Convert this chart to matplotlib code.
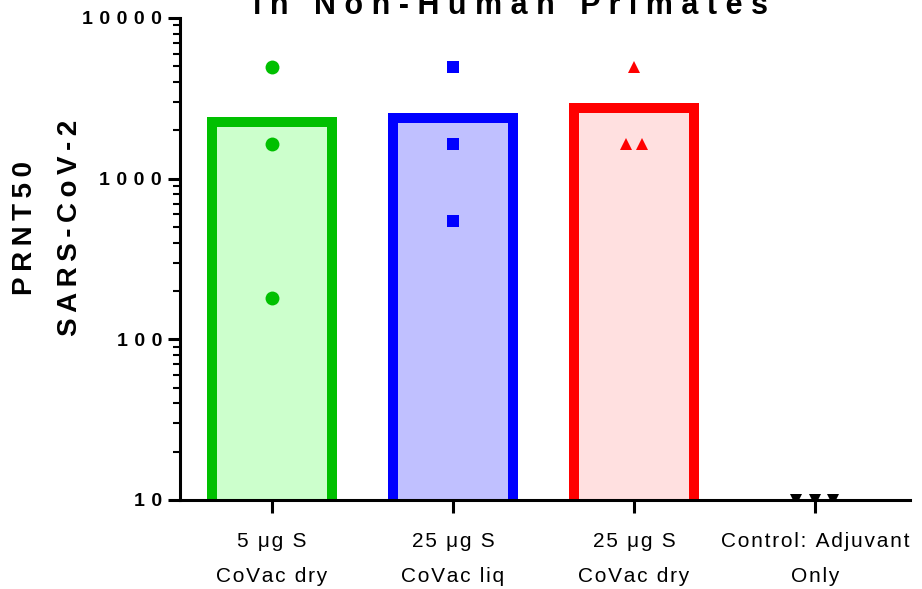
import matplotlib
matplotlib.use("Agg")
import matplotlib.pyplot as plt
from matplotlib.ticker import FixedLocator, NullFormatter
import numpy as np

# data
groups = ["5 μg S\nCoVac dry", "25 μg S\nCoVac liq", "25 μg S\nCoVac dry", "Control: Adjuvant\nOnly"]
green_pts = [4940, 1640, 181]
blue_pts = [4940, 1640, 545]
red_pts = [4940, 1640, 1640]
ctrl_pts = [10, 10, 10]
green_dx = [0, 0, 0]
blue_dx = [0, 0, 0]
red_dx = [0, -0.045, 0.045]
ctrl_dx = [-0.105, 0, 0.1]

edge_cols = ["#00C000", "#0000FF", "#FF0000", "#000000"]
fill_cols = ["#CCFFCC", "#C0C0FF", "#FFE0E0", "#FFFFFF"]
markers = ["o", "s", "^", "v"]
msizes = [10, 9, 9, 9]

BOLD = ["Liberation Sans", "DejaVu Sans"]


def spaced(s, sep="\u2009"):
    return "\n".join(sep.join(line) for line in s.split("\n"))


fig = plt.figure(figsize=(9.22, 5.89), dpi=100)
ax = fig.add_axes([180 / 922, 89 / 589, 730 / 922, 482 / 589])
ax.set_yscale("log")

x = np.arange(len(groups))
all_pts = [green_pts, blue_pts, red_pts, ctrl_pts]
all_dx = [green_dx, blue_dx, red_dx, ctrl_dx]
means = [np.mean(p) for p in all_pts]

# bars start below the axis so the bottom edge is clipped away
for i in range(3):
    ax.bar(x[i], means[i] - 1, bottom=1, width=0.66, color=fill_cols[i],
           edgecolor=edge_cols[i], linewidth=7.2, zorder=1)

for i in range(4):
    ax.plot(x[i] + np.array(all_dx[i]), all_pts[i], linestyle="none",
            marker=markers[i], markersize=msizes[i], color=edge_cols[i],
            markeredgewidth=0, zorder=3)

ax.set_ylim(10, 10000)
ax.set_xlim(-0.508, 3.525)

for s in ["top", "right"]:
    ax.spines[s].set_visible(False)
for s in ["left", "bottom"]:
    ax.spines[s].set_linewidth(2.2)
    ax.spines[s].set_zorder(4)

ax.yaxis.set_major_locator(FixedLocator([10, 100, 1000, 10000]))
minors = [m * d for d in [10, 100, 1000] for m in range(2, 10)]
ax.yaxis.set_minor_locator(FixedLocator(minors))
ax.yaxis.set_minor_formatter(NullFormatter())
ax.set_yticklabels([spaced(t, "\u2004") for t in ["10", "100", "1000", "10000"]],
                   fontsize=14, fontweight="bold", family=BOLD)
ax.tick_params(axis="y", which="major", length=9, width=2.2, pad=4)
ax.tick_params(axis="y", which="minor", length=5, width=1.5)

ax.set_xticks(x)
ax.set_xticklabels([spaced(g, "\u200a") for g in groups], fontsize=15,
                   family=["Liberation Sans", "DejaVu Sans"], linespacing=2.1)
ax.tick_params(axis="x", which="major", length=9, width=2.2, pad=14)

ax.text(-0.212, 0.565, spaced("PRNT50"), transform=ax.transAxes, rotation=90,
        ha="center", va="center", fontsize=20, fontweight="bold", family=BOLD)
ax.text(-0.151, 0.565, spaced("SARS-CoV-2"), transform=ax.transAxes, rotation=90,
        ha="center", va="center", fontsize=20, fontweight="bold", family=BOLD)

fig.text(510 / 922, 1 - 14 / 589, spaced("in Non-Human Primates", " "),
         ha="center", va="baseline", fontsize=22, fontweight="bold", family=BOLD)

fig.savefig("out.png", dpi=100)
